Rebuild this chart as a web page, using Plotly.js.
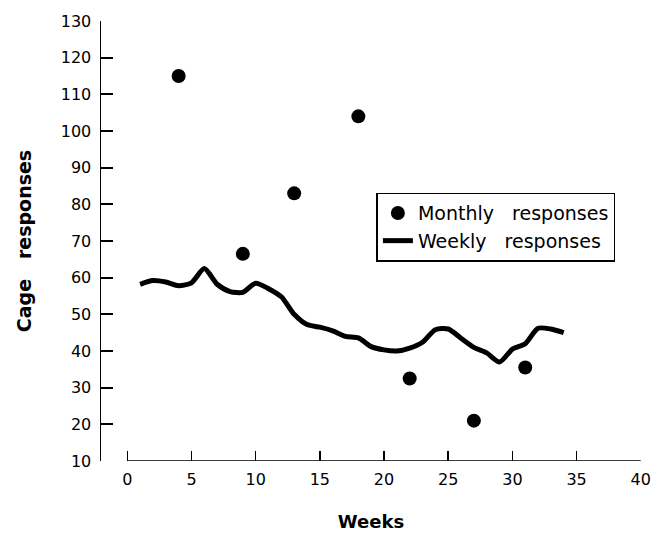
<!DOCTYPE html>
<html>
<head>
<meta charset="utf-8">
<script src="https://cdn.plot.ly/plotly-3.0.1.min.js"></script>
<style>html,body{margin:0;padding:0;background:#fff;}</style>
</head>
<body>
<div id="chart" style="width:653px;height:534px;"></div>
<script>
// Monthly responses (dots)
const monthlyWeeks = [4, 9, 13, 18, 22, 27, 31];
const monthlyValues = [115, 66.5, 83, 104, 32.5, 21, 35.5];

// Weekly responses (line)
const weeklyWeeks = [1, 2, 3, 4, 5, 6, 7, 8, 9, 10, 11, 12, 13, 14, 15, 16, 17,
  18, 19, 20, 21, 22, 23, 24, 25, 26, 27, 28, 29, 30, 31, 32, 33, 34];
const weeklyValues = [58.2, 59.2, 58.8, 57.8, 58.6, 62.5, 58.2, 56.2, 56.0, 58.5,
  57.0, 54.8, 50.0, 47.2, 46.5, 45.5, 44.0, 43.6, 41.2, 40.3, 40.0, 40.8, 42.4,
  45.8, 46.0, 43.5, 41.0, 39.5, 37.0, 40.5, 42.0, 46.2, 46.0, 45.0];

// Tick labels
const xTicks = [0, 5, 10, 15, 20, 25, 30, 35, 40];
const yTicks = [10, 20, 30, 40, 50, 60, 70, 80, 90, 100, 110, 120, 130];

const FONT = 'DejaVu Sans, sans-serif';
const nb = '\u00a0';

const traces = [
  {
    x: monthlyWeeks, y: monthlyValues, type: 'scatter', mode: 'markers',
    name: 'Monthly' + nb + nb + nb + 'responses',
    marker: {color: '#000', size: 14}
  },
  {
    x: weeklyWeeks, y: weeklyValues, type: 'scatter', mode: 'lines',
    name: 'Weekly' + nb + nb + nb + 'responses',
    line: {color: '#000', width: 5, shape: 'spline', smoothing: 0.7}
  }
];

const layout = {
  width: 653, height: 534,
  margin: {l: 101, r: 12, t: 21, b: 73},
  paper_bgcolor: '#fff', plot_bgcolor: '#fff',
  font: {family: FONT, color: '#000', size: 16},
  showlegend: true,
  legend: {
    x: 0.51, y: 0.61, xanchor: 'left', yanchor: 'top',
    bordercolor: '#000', borderwidth: 1.5, bgcolor: '#fff',
    font: {family: FONT, size: 19, color: '#000'}
  },
  xaxis: {
    range: [-2.05, 40.02], tickvals: xTicks, ticktext: xTicks.map(String),
    ticks: 'inside', ticklen: 10, tickwidth: 1.5, tickcolor: '#000',
    showline: false, showgrid: false, zeroline: false,
    tickfont: {family: FONT, size: 16, color: '#000'},
    ticklabelstandoff: 7, ticklabeloverflow: 'allow',
    title: {text: '<b>Weeks</b>', font: {family: FONT, size: 18, color: '#000'}, standoff: 27}
  },
  yaxis: {
    range: [10, 130], tickvals: yTicks, ticktext: yTicks.map(String),
    ticks: 'inside', ticklen: 12, tickwidth: 2, tickcolor: '#000',
    showline: true, linecolor: '#000', linewidth: 1.5,
    showgrid: false, zeroline: false,
    tickfont: {family: FONT, size: 16, color: '#000'},
    ticklabelstandoff: 5,
    title: {text: '<b>Cage' + nb + nb + nb + 'responses</b>', font: {family: FONT, size: 19, color: '#000'}, standoff: 24}
  },
  shapes: [
    {type: 'line', xref: 'x', yref: 'y', x0: xTicks[0], x1: xTicks[xTicks.length - 1], y0: yTicks[0], y1: yTicks[0],
     line: {color: '#000', width: 1.5}}
  ]
};

Plotly.newPlot('chart', traces, layout, {displayModeBar: false, staticPlot: true});
</script>
</body>
</html>
